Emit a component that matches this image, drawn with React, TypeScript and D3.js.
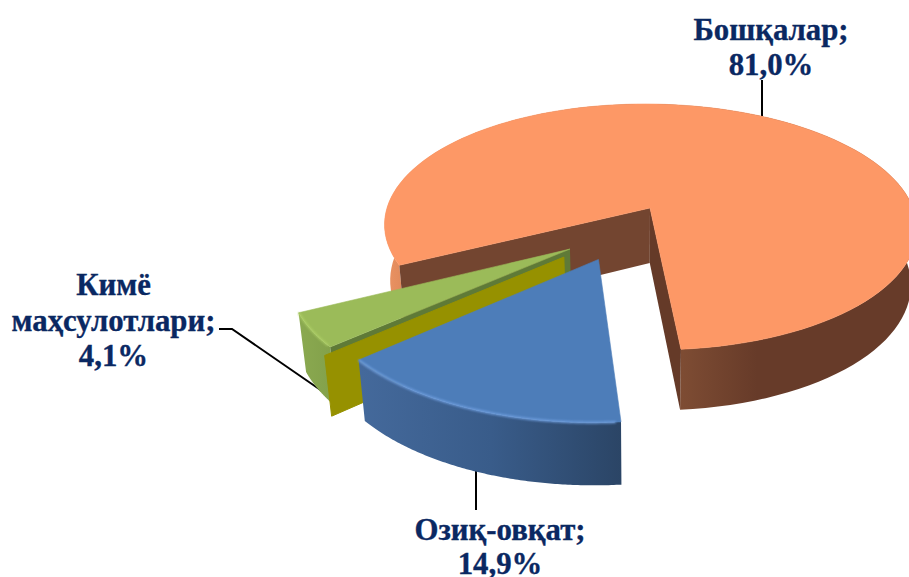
import React from "react";
import * as d3 from "d3";

const categories = ["Бошқалар", "Озиқ-овқат", "Кимё маҳсулотлари"];
const values = [81.0, 14.9, 4.1];
const labelLines = [["Бошқалар;", "81,0%"], ["Озиқ-овқат;", "14,9%"], ["Кимё", "маҳсулотлари;", "4,1%"]];
const labelX = [771, 500, 113.5];
const labelY = [[40, 75], [540, 574], [295, 331, 366]];
const explodeX = [0, -0.191, -0.295];
const explodeZ = [0, -0.402, -0.325];
const topColors = ["#fd9866", "#4d7db9", "#9bbb59"];

const W = 909, H = 577;
const cx = 650, cy = 208, rx = 263, ky = 120, persp = 0.154, vx = 640, shrink = 0.978, shear = 5;

type P = [number, number];
const wOf = (Z: number) => 1 + persp * Z;
const proj = (X: number, Z: number): P => [cx + (rx * X) / wOf(Z) - shear * Z, cy - (ky * Z) / wOf(Z)];
const low = (X: number, Z: number): P => {
  const [x, y] = proj(X, Z);
  return [vx + (x - vx) * shrink, y + 55 + 36 * (1 - wOf(Z))];
};
const line = d3.line<P>().curve(d3.curveLinear);
const polar = (ox: number, oz: number, a: number, r = 1): [number, number] => [ox + r * Math.sin(a), oz + r * Math.cos(a)];

const pie = d3.pie<number>().sort(null).value((d) => d)
  .startAngle((243.6 * Math.PI) / 180)
  .endAngle(((243.6 + 360) * Math.PI) / 180);
const arcs = pie(values);

function arcPts(i: number, fn: (X: number, Z: number) => P): P[] {
  const a = arcs[i];
  return d3.range(0, 121).map((t) => {
    const ang = a.startAngle + ((a.endAngle - a.startAngle) * t) / 120;
    const [X, Z] = polar(explodeX[i], explodeZ[i], ang);
    return fn(X, Z);
  });
}
const ringPath = (i: number) => {
  const top = arcPts(i, proj);
  const bot = arcPts(i, low).reverse();
  return line([...top, ...bot])! + "Z";
};
const topPath = (i: number) => {
  const apex = proj(explodeX[i], explodeZ[i]);
  return line([apex, ...arcPts(i, proj)])! + "Z";
};
const cutWall = (ox: number, oz: number, ang: number, r = 1) => {
  const [X, Z] = polar(ox, oz, ang, r);
  return line([proj(ox, oz), proj(X, Z), low(X, Z), low(ox, oz)])! + "Z";
};
const rim = (i: number, from: number, to: number) => {
  const pts = arcPts(i, proj);
  return line(pts.slice(Math.round(from * 120), Math.round(to * 120) + 1))!;
};

// cut faces
const orangeLeft = cutWall(0, 0, arcs[0].startAngle);
const orangeRight = cutWall(0, 0, arcs[0].endAngle);
const greenCut = cutWall(explodeX[2], explodeZ[2], arcs[2].startAngle);
const oliveCut = cutWall(-0.315, -0.385, arcs[2].startAngle, 0.985);

const blueX = d3.scaleLinear().domain([0, 1]).range([361, 621]);

const serif = "'Liberation Serif', 'Times New Roman', serif";
const ink = "#0a2862";

export default function App() {
  return (
    <svg width={W} height={H} viewBox={`0 0 ${W} ${H}`} style={{ position: "absolute", left: 0, top: 0, background: "#fff" }}>
      <defs>
        <linearGradient id="gOrange" gradientUnits="userSpaceOnUse" x1={385} x2={916} y1={0} y2={0}>
          <stop offset="0" stopColor="#ec9464" />
          <stop offset="0.04" stopColor="#de885a" />
          <stop offset="0.55" stopColor="#7f4d34" />
          <stop offset="0.7" stopColor="#673b29" />
          <stop offset="1" stopColor="#673b29" />
        </linearGradient>
        <linearGradient id="gBlue" gradientUnits="userSpaceOnUse" x1={blueX(0)} x2={blueX(1)} y1={0} y2={0}>
          <stop offset="0" stopColor="#44699b" />
          <stop offset="0.5" stopColor="#395c8a" />
          <stop offset="1" stopColor="#2b4566" />
        </linearGradient>
        <linearGradient id="gGreen" gradientUnits="userSpaceOnUse" x1={300} x2={335} y1={0} y2={0}>
          <stop offset="0" stopColor="#8aa950" />
          <stop offset="1" stopColor="#82a04a" />
        </linearGradient>
        <filter id="soft" x="-5%" y="-5%" width="110%" height="110%">
          <feGaussianBlur stdDeviation="0.8" />
        </filter>
      </defs>

      <g stroke="#000" strokeWidth={2} fill="none">
        <line x1={762} y1={80} x2={762} y2={116} />
        <line x1={476} y1={468} x2={476} y2={510} />
        <polyline points="219,329 232,329 322,391" />
      </g>

      {/* orange */}
      <path d={ringPath(0)} fill="url(#gOrange)" />
      <path d={orangeLeft} fill="#734530" />
      <path d={orangeRight} fill="#653a28" />
      <path d={topPath(0)} fill={topColors[0]} stroke={topColors[0]} strokeWidth={0.6} strokeLinejoin="round" />

      {/* green */}
      <path d={ringPath(2)} fill="url(#gGreen)" />
      <path d={greenCut} fill="#5f7a37" />
      <path d={topPath(2)} fill={topColors[2]} stroke={topColors[2]} strokeWidth={0.6} strokeLinejoin="round" />
      <path d={rim(2, 0.05, 1)} fill="none" stroke="#b4d66a" strokeWidth={2} filter="url(#soft)" opacity={0.8} />
      <path d={oliveCut} fill="#969100" stroke="#969100" strokeWidth={1} strokeLinejoin="round" />

      {/* blue */}
      <path d={ringPath(1)} fill="url(#gBlue)" />
      <path d={topPath(1)} fill={topColors[1]} stroke={topColors[1]} strokeWidth={0.6} strokeLinejoin="round" />
      <path d={rim(1, 0.02, 1)} fill="none" stroke="#72a1e2" strokeWidth={2.2} filter="url(#soft)" opacity={0.9} />

      {/* labels */}
      {labelLines.map((ls, i) =>
        ls.map((t, j) => (
          <text key={`${categories[i]}-${j}`} x={labelX[i]} y={labelY[i][j]} textAnchor="middle"
            fontFamily={serif} fontWeight={700} fontSize={30.8} fill={ink} stroke={ink} strokeWidth={0.35}>{t}</text>
        ))
      )}
    </svg>
  );
}
